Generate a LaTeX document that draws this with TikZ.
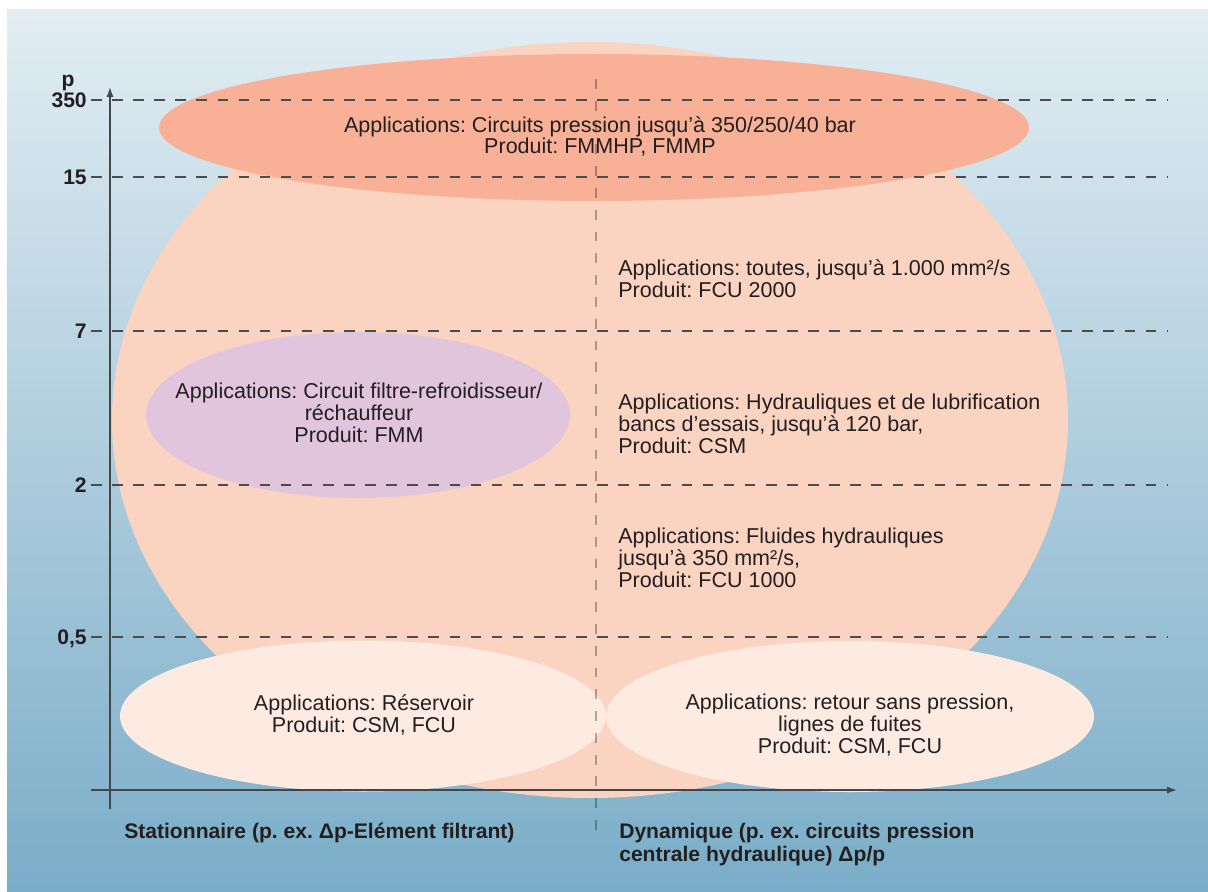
\documentclass[tikz,border=0pt]{standalone}
\usepackage{fontspec}
\setmainfont{Liberation Sans}
\usetikzlibrary{arrows.meta}
\frenchspacing

\definecolor{bgtop}{RGB}{226,237,243}
\definecolor{bgbot}{RGB}{122,173,200}
\definecolor{peach}{RGB}{251,211,193}
\definecolor{salmon}{RGB}{248,177,151}
\definecolor{lilac}{RGB}{224,197,220}
\definecolor{cream}{RGB}{253,235,226}
\definecolor{ink}{RGB}{35,31,32}
\definecolor{axisgray}{RGB}{70,70,72}

\begin{document}
\begin{tikzpicture}[x=0.025cm, y=-0.025cm,
    txt/.style={inner sep=0pt, text=ink, font=\fontsize{15.3}{15.4}\selectfont},
    lbl/.style={inner sep=0pt, text=ink, font=\fontsize{15}{16.2}\selectfont\bfseries},
    level/.style={dash pattern=on 7.5pt off 7.5pt, line width=0.9pt, draw=black!70},
    axis/.style={line width=1pt, draw=axisgray, -{Latex[length=7pt,width=5pt]}}]

    \useasboundingbox (0,0) rectangle (1208,892);

    % Background
    \shade[top color=bgtop, bottom color=bgbot] (7,10) rectangle (1208,892);

    % Regions
    \fill[peach] (590,420) ellipse [x radius=478, y radius=378];
    \fill[salmon] (594,127.5) ellipse [x radius=435, y radius=73.5];
    \fill[lilac] (358,415) ellipse [x radius=212, y radius=83];
    \fill[cream] (363,716) ellipse [x radius=243, y radius=75.5];
    \fill[cream] (850,716.5) ellipse [x radius=244, y radius=75.5];

    % Pressure levels
    \draw[level] (91,100) -- (1168,100);
    \draw[level] (91,177) -- (1168,177);
    \draw[level] (91,331) -- (1168,331);
    \draw[level] (91,485) -- (1168,485);
    \draw[level] (91,637) -- (1168,637);

    % Separation stationnaire / dynamique
    \draw[black, opacity=0.3, line width=0.9pt, dash pattern=on 7pt off 8.5pt] (596,79) -- (596,836);

    % Axes
    \coordinate (ybot) at (110,809);
    \coordinate (ytop) at (110,87);
    \coordinate (xleft) at (91,790);
    \coordinate (xright) at (1177,790);
    \draw[axis] (ybot) -- (ytop);
    \draw[axis] (xleft) -- (xright);

    \node[lbl, anchor=base] (pname) at (68,87) {p};
    \node[lbl, anchor=base east] (p350) at (87,107.5) {350};
    \node[lbl, anchor=base east] (p15) at (87,184.5) {15};
    \node[lbl, anchor=base east] (p7) at (87,338.5) {7};
    \node[lbl, anchor=base east] (p2) at (87,492.5) {2};
    \node[lbl, anchor=base east] (p05) at (87,644.5) {0,5};

    % Texts (anchored at the baseline of their last line)
    \node[txt, align=center, anchor=base] (hp) at (600,154) {Applications: Circuits pression jusqu’à 350/250/40 bar\\Produit: FMMHP, FMMP};
    \node[txt, align=left, anchor=base west] (fcu2000) at (618,297) {Applications: toutes, jusqu’à 1.000 mm²/s\\Produit: FCU 2000};
    \node[txt, align=left, anchor=base west] (csm) at (618,453) {Applications: Hydrauliques et de lubrification\\bancs d’essais, jusqu’à 120 bar,\\Produit: CSM};
    \node[txt, align=left, anchor=base west] (fcu1000) at (618,587) {Applications: Fluides hydrauliques\\jusqu’à 350 mm²/s,\\Produit: FCU 1000};
    \node[txt, align=center, anchor=base] (fmm) at (359,442) {Applications: Circuit filtre-refroidisseur/\\réchauffeur\\Produit: FMM};
    \node[txt, align=center, anchor=base] (tank) at (364,732) {Applications: Réservoir\\Produit: CSM, FCU};
    \node[txt, align=center, anchor=base] (retour) at (850,753) {Applications: retour sans pression,\\lignes de fuites\\Produit: CSM, FCU};

    \node[lbl, anchor=base west] (stat) at (124,838.5) {Stationnaire (p. ex. Δp-Elément filtrant)};
    \node[lbl, align=left, anchor=base west] (dyn) at (619,861.5) {Dynamique (p. ex. circuits pression\\centrale hydraulique) Δp/p};

\end{tikzpicture}
\end{document}
